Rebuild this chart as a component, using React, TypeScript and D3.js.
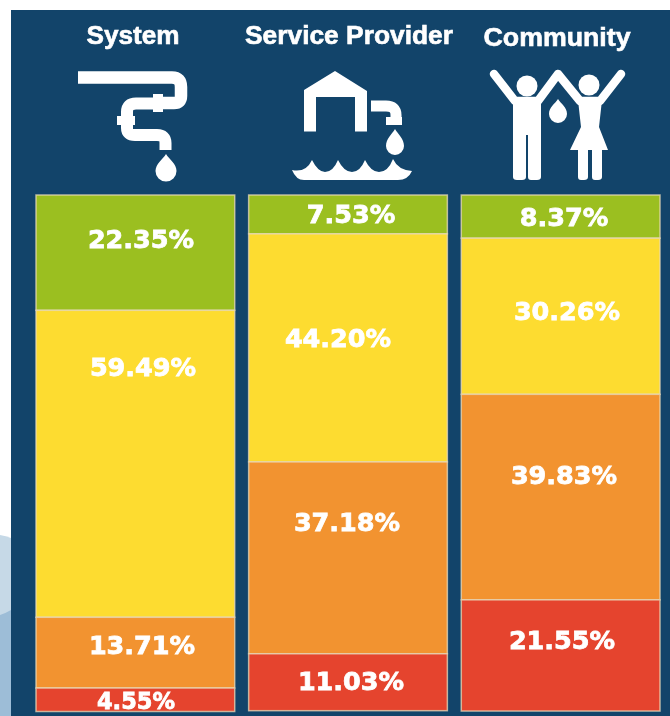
import React from "react";
import * as d3 from "d3";

const categories = ["System", "Service Provider", "Community"];
const levels = ["green", "yellow", "orange", "red"];
const systemValues = [22.35, 59.49, 13.71, 4.55];
const providerValues = [7.53, 44.2, 37.18, 11.03];
const communityValues = [8.37, 30.26, 39.83, 21.55];
const seriesValues = [systemValues, providerValues, communityValues];
const colors = ["#9bbf20", "#fddc30", "#f29330", "#e5442e"];

// layout of the hand-placed labels (as in the reference)
const labelDy = [[43, 56, 27, 11], [18, 103, 59, 26], [21, 72, 80, 39]];
const labelCx = [[141, 143, 142, 136], [351, 338, 347, 351], [564, 567, 564, 562]];
const headerCx = [133, 349, 557];
const headerY = [44, 44, 46];

const W = 670, H = 716;
const DROP = (cx: number, top: number, bottom: number, hw: number) => {
  const cy = bottom - hw;
  return `M${cx},${top} C${cx + 3},${top + 5} ${cx + hw},${cy - 7} ${cx + hw},${cy} A${hw},${hw} 0 1 1 ${cx - hw},${cy} C${cx - hw},${cy - 7} ${cx - 3},${top + 5} ${cx},${top}Z`;
};

function Icons() {
  return (
    <g filter="url(#soft)" fill="#fff" stroke="none">
      {/* pipe */}
      <g fill="none" stroke="#fff" strokeWidth={12.5}>
        <path d="M78,77.5 H172 Q181,77.5 181,87 V96 Q181,103 174,103 H160" />
        <path d="M156,103.5 H136 Q127,103.5 127,112 V128 Q127,135 135,135 H157 Q165.5,135 165.5,143 V150" strokeWidth={12} />
      </g>
      <rect x={153} y={94} width={10} height={18} />
      <rect x={117} y={116} width={18} height={9} />
      <path d={DROP(166, 154, 181.5, 10.5)} />
      {/* water tower */}
      <path d="M335,71 L367,91 V131.5 H355 V97 H316 V131.5 H304 V90 Z" />
      <path d="M371,106 H386 Q396,106 396,115 V119" fill="none" stroke="#fff" strokeWidth={11} />
      <rect x={386} y={117} width={16} height={8} />
      <path d={DROP(395, 129, 155, 9)} />
      <path d="M292,170 Q306,173 312,160 Q318,172 325,172 Q333,172 338,160 Q344,172 352,172 Q360,172 365,160 Q371,172 379,172 Q388,172 393,159 Q398,170 412,171 Q408,180 398,180 H304 Q296,180 292,170Z" />
      {/* people */}
      <circle cx={527} cy={86} r={10.5} />
      <circle cx={589} cy={85} r={10.5} />
      <path d="M494,74 L515,101 H538 L558,74 L580,101 H600 L621,74" fill="none" stroke="#fff" strokeWidth={8.5} strokeLinecap="round" strokeLinejoin="round" />
      <path d="M513,100 H541 V177 Q541,180 537,180 H531 Q528,180 528,177 V135 H526 V177 Q526,180 522,180 H517 Q513,180 513,177 Z" />
      <path d="M578,100 H602 L599,127 L608,150 H602 V177 Q602,180 598,180 H595 Q592,180 592,177 V150 H588 V177 Q588,180 584,180 H581 Q578,180 578,177 V150 H570 L581,127 Z" />
      <path d={DROP(558, 99, 123, 9)} />
    </g>
  );
}

export default function App() {
  const y = d3.scaleLinear().domain([0, 100]).range([195, 711]);
  const x = d3.scaleBand().domain(categories).range([36, 660]).paddingInner(0.0655).paddingOuter(0);
  const stack = seriesValues.map((vals) => {
    let c = 0;
    return vals.map((v) => {
      const s = c;
      c += v;
      return [s, c];
    });
  });
  return (
    <svg width={W} height={H} viewBox={`0 0 ${W} ${H}`} style={{ position: "absolute", left: 0, top: 0 }}>
      <defs>
        <filter id="soft" x="-5%" y="-5%" width="110%" height="110%">
          <feGaussianBlur stdDeviation="0.7" />
        </filter>
      </defs>
      <rect x={0} y={0} width={W} height={H} fill="#fff" />
      <path d="M0,535 Q6,536 11,538 V716 H0 Z" fill="#c6d9e7" />
      <path d="M0,615 Q6,613 11,610 V716 H0 Z" fill="#9dbdd7" />
      <rect x={11} y={10} width={W - 11} height={H - 10} fill="#12446a" />
      <Icons />
      {categories.map((c, i) => (
        <text key={c} x={headerCx[i]} y={headerY[i]} textAnchor="middle" fill="#fff" stroke="#fff" strokeWidth={0.6}
          fontFamily="Liberation Sans" fontWeight="bold" fontSize={25} filter="url(#soft)"
          textLength={[93, 208, 147][i]} lengthAdjust="spacingAndGlyphs">{c}</text>
      ))}
      {categories.map((c, i) => (
        <g key={c}>
          {levels.map((l, j) => (
            <rect key={l} x={x(c)} y={y(stack[i][j][0])} width={x.bandwidth()} height={y(stack[i][j][1]) - y(stack[i][j][0])}
              fill={colors[j]} stroke="#e9d9b8" strokeOpacity={0.75} strokeWidth={1.5} />
          ))}
          {levels.map((l, j) => (
            <text key={l} x={labelCx[i][j]} y={y(stack[i][j][0]) + labelDy[i][j] + 10} textAnchor="middle" fill="#fff"
              stroke="#fff" strokeWidth={0.8}
              fontFamily="DejaVu Sans" fontWeight="bold" fontSize={j === 3 && i === 0 ? 22.5 : 25.5} filter="url(#soft)"
            >{seriesValues[i][j].toFixed(2)}%</text>
          ))}
        </g>
      ))}
    </svg>
  );
}
